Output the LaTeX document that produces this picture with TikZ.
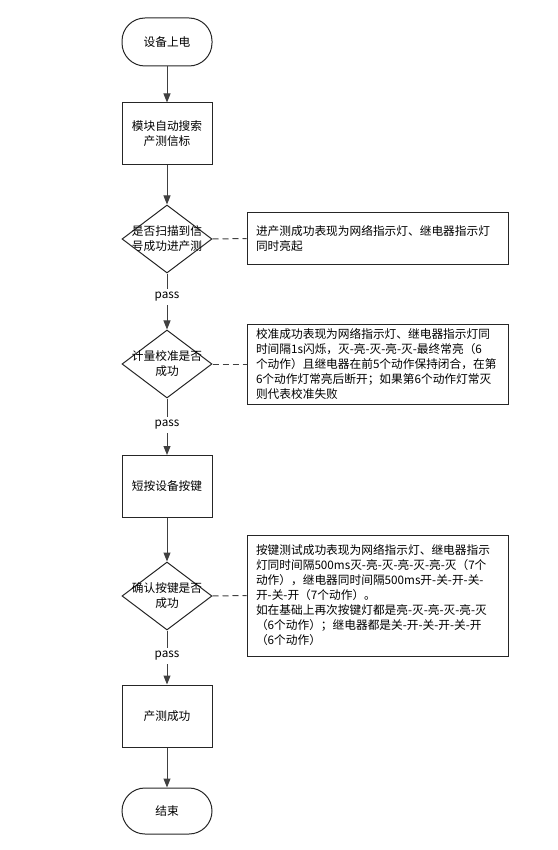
\documentclass[tikz,border=0pt]{standalone}
\usepackage{fontspec}
\setmainfont{Noto Sans CJK SC}
\usetikzlibrary{shapes.geometric,arrows.meta}

\begin{document}
\begin{tikzpicture}[x=1pt,y=-1pt,
	font=\fontsize{11.7}{15}\selectfont,
	term/.style={draw=black!85,line width=1pt,rounded corners=23pt,minimum width=90pt,minimum height=48pt},
	proc/.style={draw=black!85,line width=1pt,minimum width=90pt,minimum height=62pt,align=center},
	decision/.style={diamond,draw=black!85,line width=1pt,minimum width=90pt,minimum height=68pt,inner sep=0pt},
	note/.style={draw=black!85,line width=1pt,minimum width=261pt,text width=243pt,inner xsep=9pt,align=left},
	flowline/.style={draw=black!75,line width=1pt},
	arrow/.style={flowline,-{Triangle[length=9pt,width=7pt]}},
	link/.style={flowline,dash pattern=on 6pt off 4pt}]
	\useasboundingbox (0,0) rectangle (557,850);
%
	\node[term] (start) at (167,42) {设备上电};
	\node[proc] (search) at (167,134) {模块自动搜索\\产测信标};
	\node[decision,label={[align=center]center:是否扫描到信\\号成功进产测}] (scan) at (167,239) {};
	\node[note,minimum height=51pt] (scannote) at (377.5,238.5)
		{进产测成功表现为网络指示灯、继电器指示灯\\同时亮起};
	\node (pass1) at (167,297) {pass};
%
	\node[decision,label={[align=center]center:计量校准是否\\成功}] (calib) at (167,364) {};
	\node[note,minimum height=80pt] (calibnote) at (377.5,364)
		{校准成功表现为网络指示灯、继电器指示灯同\\
		时间隔1s闪烁，灭-亮-灭-亮-灭-最终常亮（6\\
		个动作）且继电器在前5个动作保持闭合，在第\\
		6个动作灯常亮后断开；如果第6个动作灯常灭\\
		则代表校准失败};
	\node (pass2) at (167,425) {pass};
%
	\node[proc] (press) at (167,486.5) {短按设备按键};
	\node[decision,label={[align=center]center:确认按键是否\\成功}] (confirm) at (167,596) {};
	\node[note,minimum height=121pt] (confirmnote) at (377.5,595.5)
		{按键测试成功表现为网络指示灯、继电器指示\\
		灯同时间隔500ms灭-亮-灭-亮-灭-亮-灭（7个\\
		动作），继电器同时间隔500ms开-关-开-关-\\
		开-关-开（7个动作）。\\
		如在基础上再次按键灯都是亮-灭-亮-灭-亮-灭\\
		（6个动作）；继电器都是关-开-关-开-关-开\\
		（6个动作）};
	\node (pass3) at (167,656) {pass};
%
	\node[proc] (done) at (167,716) {产测成功};
	\node[term,minimum height=46pt] (end) at (167,811) {结束};
%
	\draw[arrow] (start) -- (search);
	\draw[arrow] (search) -- (scan);
	\draw[flowline] (scan) -- (pass1);
	\draw[arrow] (pass1) -- (calib);
	\draw[flowline] (calib) -- (pass2);
	\draw[arrow] (pass2) -- (press);
	\draw[arrow] (press) -- (confirm);
	\draw[flowline] (confirm) -- (pass3);
	\draw[arrow] (pass3) -- (done);
	\draw[arrow] (done) -- (end);
%
	\draw[link] (scan.east) -- (scannote.west);
	\draw[link] (calib.east) -- (calibnote.west);
	\draw[link] (confirm.east) -- (confirmnote.west);
\end{tikzpicture}
\end{document}
